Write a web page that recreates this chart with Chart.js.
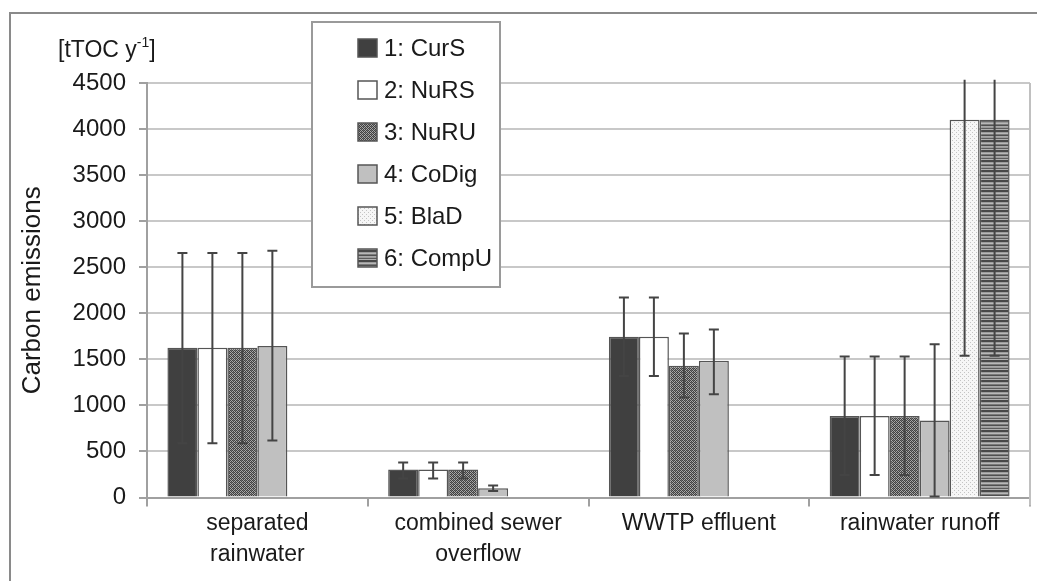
<!DOCTYPE html>
<html>
<head>
<meta charset="utf-8">
<script src="https://cdn.jsdelivr.net/npm/chart.js@4.4.1/dist/chart.umd.min.js"></script>
<style>
  html, body { margin: 0; padding: 0; background: #ffffff; }
  #wrap { width: 1037px; height: 581px; position: relative; }
</style>
</head>
<body>
<div id="wrap"><canvas id="grafico" width="1037" height="581"></canvas></div>
<script>
// categorias e valores
const categorias = [['separated', 'rainwater'], ['combined sewer', 'overflow'], 'WWTP effluent', 'rainwater runoff'];
const rotulos = ['1: CurS', '2: NuRS', '3: NuRU', '4: CoDig', '5: BlaD', '6: CompU'];

const curS = [1625, 305, 1745, 885];
const nuRS = [1625, 305, 1745, 885];
const nuRU = [1625, 305, 1430, 885];
const coDig = [1645, 100, 1485, 835];
const blaD = [null, null, null, 4100];
const compU = [null, null, null, 4100];

// barras de erro: limite superior e inferior
const curSAlto = [2655, 380, 2170, 1530];
const curSBaixo = [590, 205, 1320, 245];
const nuRSAlto = [2655, 380, 2170, 1530];
const nuRSBaixo = [590, 205, 1320, 245];
const nuRUAlto = [2655, 380, 1780, 1530];
const nuRUBaixo = [590, 205, 1085, 245];
const coDigAlto = [2680, 130, 1825, 1665];
const coDigBaixo = [620, 70, 1120, 10];
const blaDAlto = [null, null, null, 4535];
const blaDBaixo = [null, null, null, 1540];
const compUAlto = [null, null, null, 4535];
const compUBaixo = [null, null, null, 1540];

const ticksY = [0, 500, 1000, 1500, 2000, 2500, 3000, 3500, 4000, 4500];

function criarPadrao(tipo) {
  const c = document.createElement('canvas');
  const g = c.getContext('2d');
  if (tipo === 'trama') {
    c.width = 4; c.height = 4;
    g.fillStyle = '#a8a8a8';
    g.fillRect(0, 0, 4, 4);
    g.fillStyle = '#404040';
    for (let i = 0; i < 4; i++) {
      g.fillRect(i, i, 1, 1);
      g.fillRect((i + 2) % 4, i, 1, 1);
    }
    g.fillStyle = '#707070';
    g.fillRect(1, 0, 1, 1);
    g.fillRect(3, 2, 1, 1);
  } else if (tipo === 'pontos') {
    c.width = 4; c.height = 4;
    g.fillStyle = '#f6f6f6';
    g.fillRect(0, 0, 4, 4);
    g.fillStyle = '#c4c4c4';
    g.fillRect(0, 0, 1, 1);
    g.fillRect(2, 2, 1, 1);
  } else {
    c.width = 4; c.height = 10;
    const linhas = ['#484848', '#484848', '#9c9c9c', '#b8b8b8', '#7a7a7a', '#505050', '#a8a8a8', '#9a9a9a', '#5c5c5c', '#b0b0b0'];
    linhas.forEach((cor, i) => {
      g.fillStyle = cor;
      g.fillRect(0, i, 4, 1);
    });
  }
  return g.createPattern(c, 'repeat');
}

const fundos = ['#404040', '#ffffff', criarPadrao('trama'), '#c0c0c0', criarPadrao('pontos'), criarPadrao('listras')];
const valores = [curS, nuRS, nuRU, coDig, blaD, compU];
const altos = [curSAlto, nuRSAlto, nuRUAlto, coDigAlto, blaDAlto, compUAlto];
const baixos = [curSBaixo, nuRSBaixo, nuRUBaixo, coDigBaixo, blaDBaixo, compUBaixo];

const datasets = valores.map((v, i) => ({
  label: rotulos[i],
  data: v,
  backgroundColor: fundos[i],
  borderColor: '#555555',
  borderWidth: 1.5,
  borderSkipped: 'start',
  errAlto: altos[i],
  errBaixo: baixos[i]
}));

const fonte = 'Liberation Sans, Arial, sans-serif';

const pluginErros = {
  id: 'barrasErro',
  afterDatasetsDraw(chart) {
    const ctx = chart.ctx;
    const y = chart.scales.y;
    ctx.save();
    ctx.strokeStyle = '#444444';
    ctx.lineWidth = 2;
    chart.data.datasets.forEach((ds, i) => {
      const meta = chart.getDatasetMeta(i);
      meta.data.forEach((barra, j) => {
        const hi = ds.errAlto[j];
        const lo = ds.errBaixo[j];
        if (hi == null || lo == null) return;
        const x = barra.x;
        const yHi = y.getPixelForValue(hi);
        const yLo = y.getPixelForValue(lo);
        ctx.beginPath();
        ctx.moveTo(x, yHi);
        ctx.lineTo(x, yLo);
        if (hi <= 4500) {
          ctx.moveTo(x - 5, yHi);
          ctx.lineTo(x + 5, yHi);
        }
        ctx.moveTo(x - 5, yLo);
        ctx.lineTo(x + 5, yLo);
        ctx.stroke();
      });
    });
    ctx.restore();
  }
};

const pluginMoldura = {
  id: 'moldura',
  beforeDraw(chart) {
    const ctx = chart.ctx;
    ctx.save();
    ctx.fillStyle = '#ffffff';
    ctx.fillRect(0, 0, chart.width, chart.height);
    ctx.restore();
  },
  afterDraw(chart) {
    const ctx = chart.ctx;
    const area = chart.chartArea;
    ctx.save();
    // borda direita da area do grafico
    ctx.strokeStyle = '#c0c0c0';
    ctx.lineWidth = 2;
    ctx.beginPath();
    ctx.moveTo(area.right, area.top);
    ctx.lineTo(area.right, area.bottom + 8);
    ctx.stroke();

    // moldura externa
    ctx.strokeStyle = '#8a8a8a';
    ctx.lineWidth = 2;
    ctx.beginPath();
    ctx.moveTo(10, chart.height);
    ctx.lineTo(10, 13);
    ctx.lineTo(chart.width, 13);
    ctx.stroke();

    // unidade
    ctx.fillStyle = '#1a1a1a';
    ctx.textBaseline = 'alphabetic';
    ctx.textAlign = 'left';
    ctx.font = '23px ' + fonte;
    let x = 58;
    const base = 57;
    const t1 = '[tTOC y';
    ctx.fillText(t1, x, base);
    x += ctx.measureText(t1).width;
    ctx.font = '14px ' + fonte;
    ctx.fillText('-1', x, base - 10);
    x += ctx.measureText('-1').width;
    ctx.font = '23px ' + fonte;
    ctx.fillText(']', x, base);

    // legenda
    const lx = 312, ly = 22, lw = 188, lh = 265;
    ctx.fillStyle = '#ffffff';
    ctx.fillRect(lx, ly, lw, lh);
    ctx.strokeStyle = '#9a9a9a';
    ctx.lineWidth = 2;
    ctx.strokeRect(lx, ly, lw, lh);
    chart.data.datasets.forEach((ds, i) => {
      const cy = 48 + i * 42;
      ctx.fillStyle = ds.backgroundColor;
      ctx.fillRect(358, cy - 9, 19, 18);
      ctx.strokeStyle = '#555555';
      ctx.lineWidth = 1.5;
      ctx.strokeRect(358, cy - 9, 19, 18);
      ctx.fillStyle = '#1a1a1a';
      ctx.font = '24px ' + fonte;
      ctx.textBaseline = 'middle';
      ctx.fillText(ds.label, 384, cy + 1);
    });
    ctx.restore();
  }
};

const ctx = document.getElementById('grafico').getContext('2d');
const grafico = new Chart(ctx, {
  type: 'bar',
  data: {
    labels: categorias,
    datasets: datasets
  },
  options: {
    responsive: false,
    animation: false,
    layout: { padding: { left: 10, top: 83, right: 7, bottom: 0 } },
    datasets: {
      bar: { barPercentage: 1.0, categoryPercentage: 0.815 }
    },
    plugins: {
      legend: { display: false },
      tooltip: { enabled: false }
    },
    scales: {
      x: {
        grid: {
          offset: true,
          drawOnChartArea: false,
          drawTicks: true,
          tickLength: 9,
          color: '#a0a0a0',
          lineWidth: 2
        },
        border: { color: '#a0a0a0', width: 2 },
        ticks: {
          color: '#1a1a1a',
          font: { family: fonte, size: 23, lineHeight: 1.38 },
          padding: 1,
          maxRotation: 0,
          autoSkip: false
        },
        afterFit(scale) { scale.height = 83.5; }
      },
      y: {
        min: 0,
        max: 4500,
        afterBuildTicks(scale) { scale.ticks = ticksY.map(v => ({ value: v })); },
        grid: {
          color: '#c8c8c8',
          lineWidth: 2,
          tickLength: 8,
          tickColor: '#a0a0a0'
        },
        border: { color: '#a0a0a0', width: 2 },
        ticks: {
          color: '#1a1a1a',
          font: { family: fonte, size: 24 },
          padding: 13,
          callback: v => String(v)
        },
        title: {
          display: true,
          text: 'Carbon emissions',
          color: '#1a1a1a',
          font: { family: fonte, size: 26 },
          padding: { top: 7, bottom: 0 }
        },
        afterFit(scale) { scale.width = 137; }
      }
    }
  },
  plugins: [pluginErros, pluginMoldura]
});
</script>
</body>
</html>
